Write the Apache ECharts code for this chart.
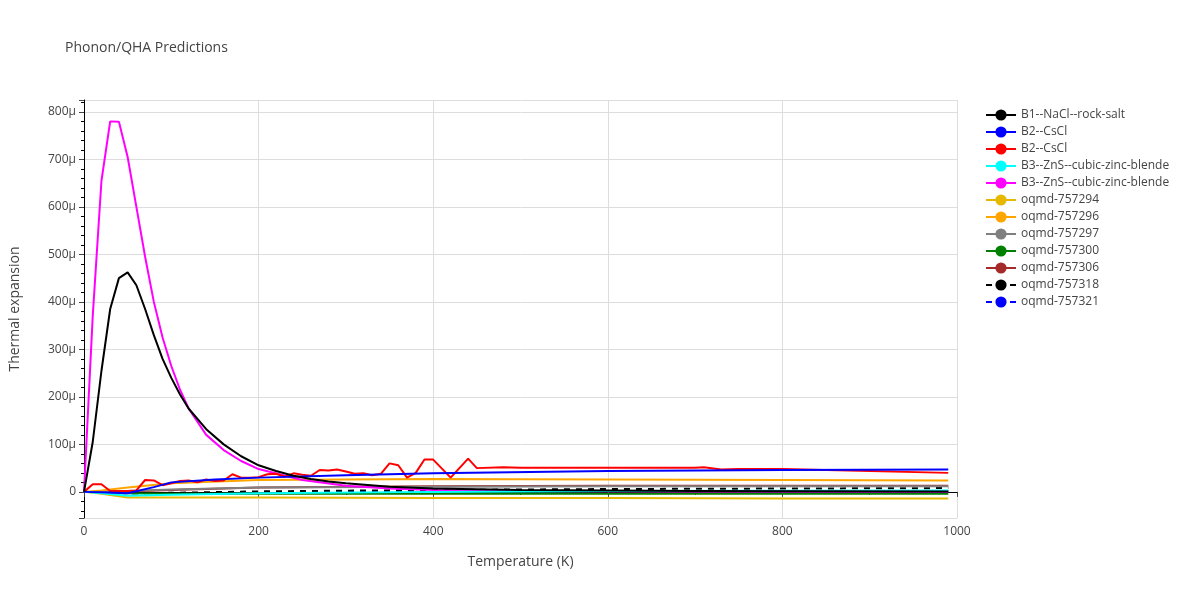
<!DOCTYPE html>
<html><head><meta charset="utf-8">
<script src="https://cdn.jsdelivr.net/npm/echarts@6/dist/echarts.min.js"></script>
<style>html,body{margin:0;padding:0;background:#fff}#c{width:1200px;height:600px}</style>
</head><body><div id="c"></div>
<script>
const names = ["B1--NaCl--rock-salt","B2--CsCl","B2--CsCl ","B3--ZnS--cubic-zinc-blende","B3--ZnS--cubic-zinc-blende ","oqmd-757294","oqmd-757296","oqmd-757297","oqmd-757300","oqmd-757306","oqmd-757318","oqmd-757321"];
const colors = ["#000000","#0000ff","#ff0000","#00ffff","#ff00ff","#e6b800","#ffa500","#808080","#008000","#a52a2a","#000000","#0000ff"];
const dashed = [false,false,false,false,false,false,false,false,false,false,true,true];
const T_black = [0,10,20,30,40,50,60,70,80,90,100,110,120,140,160,180,200,220,240,260,280,300,350,400,500,700,990];
const V_black = [0,105,255,385,450,462,435,385,330,280,240,205,175,132,100,75,56,44,34,27,22,18,11,7,4,2,1];
const T_blue = [0,20,50,80,100,150,200,300,400,600,800,990];
const V_blue = [0,-1,-3,10,20,26,30,35,39,44,46,47];
const T_red = [0,10,20,30,40,50,60,70,80,90,100,110,120,130,140,150,160,170,180,190,200,210,220,230,240,250,260,270,280,290,300,310,320,330,340,350,360,370,380,390,400,420,440,450,480,500,700,710,730,750,800,990];
const V_red = [0,16,16,2,2,2,3,25,24,14,18,23,24,20,26,23,24,37,30,30,31,37,38,32,39,36,34,46,45,47,43,38,39,35,38,60,56,30,40,68,68,30,70,50,52,51,51,52,47,48,48,40];
const T_cyan = [0,20,50,100,200,400,600,990];
const V_cyan = [0,-3,-8,-6,-3,0,2,3];
const T_mag = [0,10,20,30,40,50,60,70,80,90,100,110,120,140,160,180,200,250,300,350,400,500,700,990];
const V_mag = [0,370,655,780,779,705,600,495,400,325,265,215,175,120,88,65,48,25,13,7,4,2,1,0.5];
const T_slow = [0,20,50,100,200,400,600,800,990];
const V_757294 = [0,-4,-12,-12,-12,-13,-13,-14,-14];
const V_757296 = [0,3,9,18,25,27,26,25,24];
const V_757297 = [0,0,2,5,9,11,12,12,12];
const V_757300 = [0,-1,-3,-4,-4,-4,-4,-4,-4];
const V_757306 = [0,0,1,4,9,12,13,13,13];
const V_757318 = [0,-1,-3,-2,1,4,6,7,8];
const V_757321 = [0,-1,-3,-3,-1,0,1,1,2];
const pairs = [[T_black,V_black],[T_blue,V_blue],[T_red,V_red],[T_cyan,V_cyan],[T_mag,V_mag],[T_slow,V_757294],[T_slow,V_757296],[T_slow,V_757297],[T_slow,V_757300],[T_slow,V_757306],[T_slow,V_757318],[T_slow,V_757321]];
const series = pairs.map((p,i)=>({
  name: names[i], type:'line', showSymbol:false, symbol:'none',
  data: p[0].map((t,j)=>[t,p[1][j]]),
  lineStyle:{color:colors[i], width:2, type: dashed[i]?[6,6]:'solid'},
  itemStyle:{color:colors[i]}, z: 10-i
}));
const chart = echarts.init(document.getElementById('c'));
chart.setOption({
  animation:false,
  title:{text:'Phonon/QHA Predictions', left:60, top:36, textStyle:{fontSize:14,fontWeight:'normal',color:'#444',fontFamily:'Open Sans'}},
  legend:{orient:'vertical', left:980, top:104, itemGap:5, itemWidth:30, itemHeight:14,
    textStyle:{fontSize:12,color:'#444',fontFamily:'Open Sans'}},
  grid:{left:80, right:243, top:100, bottom:82, containLabel:false},
  xAxis:{type:'value', min:0, max:1000, interval:200,
    name:'Temperature (K)', nameLocation:'middle', nameGap:37, nameTextStyle:{fontSize:14,color:'#444',fontFamily:'Open Sans'},
    axisLine:{show:true,lineStyle:{color:'#000'}}, axisTick:{show:true,lineStyle:{color:'#444'}},
    minorTick:{show:true,splitNumber:2}, axisLabel:{color:'#444',fontSize:12,fontFamily:'Open Sans',formatter:v=>String(v)},
    splitLine:{lineStyle:{color:'#ddd'}}},
  yAxis:{type:'value', min:-55, max:825, splitNumber:9,
    name:'Thermal expansion', nameLocation:'middle', nameGap:62, nameTextStyle:{fontSize:14,color:'#444',fontFamily:'Open Sans'},
    axisLine:{show:true,lineStyle:{color:'#000'}}, axisTick:{show:true,lineStyle:{color:'#444'}},
    minorTick:{show:true,splitNumber:5},
    axisLabel:{color:'#444',fontSize:12,fontFamily:'Open Sans',showMinLabel:false,showMaxLabel:false,
      formatter:v=> v===0?'0':(v+'μ')},
    splitLine:{lineStyle:{color:'#ddd'}}},
  series: series
});
</script></body></html>
